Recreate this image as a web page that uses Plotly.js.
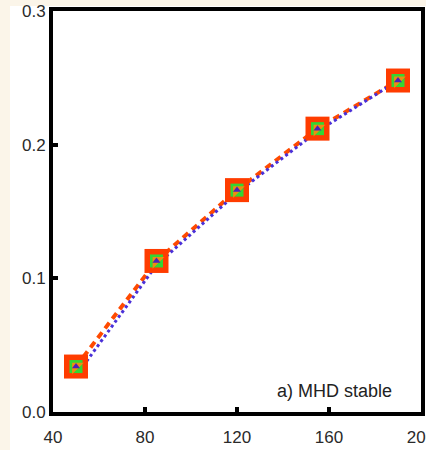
<!DOCTYPE html>
<html>
<head>
<meta charset="utf-8">
<script src="https://cdn.plot.ly/plotly-3.0.1.min.js"></script>
<style>
  html, body { margin: 0; padding: 0; background: #fbf5e9; width: 426px; height: 450px; overflow: hidden; }
  #chart { position: absolute; left: 10px; top: 0px; width: 416px; height: 450px; background: #ffffff; }
</style>
</head>
<body>
<div id="chart"></div>
<script>
// Data
const xValues = [50, 85, 120, 155, 190];
const redSeries = [0.034, 0.113, 0.166, 0.212, 0.248];
const blueSeries = [0.027, 0.110, 0.164, 0.210, 0.248];
const xTickVals = [40, 80, 120, 160, 200];
const yTickVals = [0.0, 0.1, 0.2, 0.3];
const annotationText = "a) MHD stable";

const traces = [
  { x: xValues, y: redSeries, mode: "lines", line: { color: "#ff4a00", width: 4, dash: "7px,5px" }, hoverinfo: "skip" },
  { x: xValues, y: blueSeries, mode: "lines", line: { color: "#4a30d8", width: 3, dash: "dot" }, hoverinfo: "skip" },
  { x: xValues, y: redSeries, mode: "markers", marker: { symbol: "square", size: 24, color: "#ff3c00" }, hoverinfo: "skip" },
  { x: xValues, y: redSeries, mode: "markers", marker: { symbol: "square", size: 13, color: "#33d633" }, hoverinfo: "skip" },
  { x: xValues, y: redSeries, mode: "markers", marker: { symbol: "triangle-nw", size: 13, color: "#f08c10" }, hoverinfo: "skip" },
  { x: xValues, y: redSeries, mode: "markers", marker: { symbol: "triangle-up", size: 7, color: "#4a20b8" }, hoverinfo: "skip" }
];

const axisCommon = {
  showgrid: false, zeroline: false,
  showline: true, mirror: true, linecolor: "#000000", linewidth: 4,
  ticks: "inside", ticklen: 5, tickwidth: 4, tickcolor: "#000000",
  ticklabeloverflow: "allow",
  tickfont: { family: "Liberation Sans, Arial, sans-serif", size: 17, color: "#2a2a2a" }
};

const layout = {
  width: 416, height: 450,
  margin: { l: 43, r: 5, t: 11, b: 38 },
  paper_bgcolor: "#ffffff", plot_bgcolor: "#ffffff",
  showlegend: false,
  xaxis: Object.assign({}, axisCommon, { range: [40, 200.001], tickvals: xTickVals, ticktext: xTickVals.map(String), ticklabelstandoff: 7 }),
  yaxis: Object.assign({}, axisCommon, { range: [0, 0.30001], tickvals: yTickVals, ticktext: yTickVals.map(v => v.toFixed(1)) }),
  shapes: [{
    type: "rect", xref: "paper", yref: "paper", x0: -0.2, x1: 1.1, y0: 1.0125, y1: 1.06,
    fillcolor: "#fbf5e9", line: { width: 0 }, layer: "below"
  }],
  annotations: [{
    text: annotationText, xref: "paper", yref: "paper", x: 0.927, y: 0.053,
    xanchor: "right", yanchor: "middle", showarrow: false,
    font: { family: "Liberation Sans, Arial, sans-serif", size: 18, color: "#222222" }
  }]
};

Plotly.newPlot("chart", traces, layout, { displayModeBar: false, staticPlot: true });
</script>
</body>
</html>
